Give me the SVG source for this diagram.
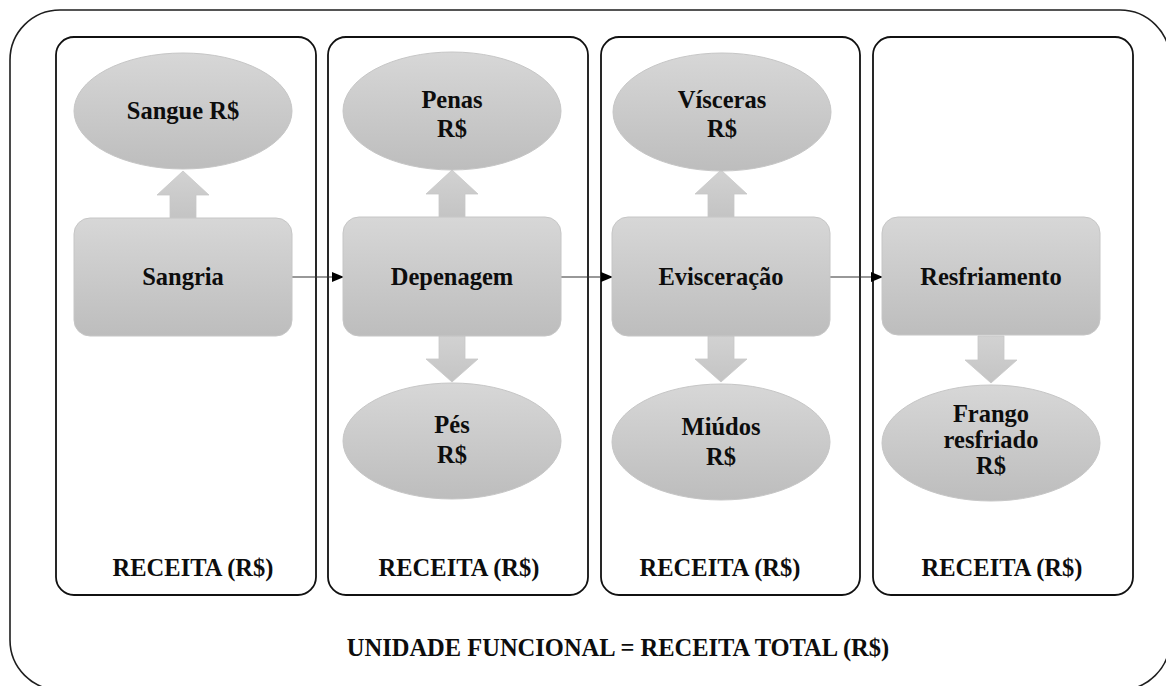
<svg xmlns="http://www.w3.org/2000/svg" width="1166" height="686" viewBox="0 0 1166 686">
  <defs>
    <linearGradient id="gShape" x1="0" y1="0" x2="0" y2="1">
      <stop offset="0" stop-color="#d7d7d7"/>
      <stop offset="1" stop-color="#bdbdbd"/>
    </linearGradient>
    <linearGradient id="gArrow" x1="0" y1="0" x2="0" y2="1">
      <stop offset="0" stop-color="#d2d2d2"/>
      <stop offset="1" stop-color="#c4c4c4"/>
    </linearGradient>
    <marker id="head" markerWidth="12" markerHeight="10" refX="11" refY="5" orient="auto" markerUnits="userSpaceOnUse">
      <path d="M0,0 L12,5 L0,10 Z" fill="#000"/>
    </marker>
  </defs>
  <style>
    .frame { fill: #fff; stroke: #1e1e1e; stroke-width: 1.6; }
    .panel { fill: none; stroke: #111; stroke-width: 1.8; }
    .box { fill: url(#gShape); stroke: #c6c6c6; stroke-width: 1; }
    .blk { fill: url(#gArrow); stroke: #c8c8c8; stroke-width: 0.8; }
    .link { fill: none; stroke: #333; stroke-width: 1.2; marker-end: url(#head); }
    .node { font-size: 24.5px; }
    .rev { font-size: 24.5px; }
    .total { font-size: 24.5px; }
  </style>

  <!-- outer frame -->
  <rect class="frame" x="10" y="10" width="1160" height="680" rx="50" ry="50"/>

  <g font-family="'Liberation Serif', 'DejaVu Serif', serif" font-weight="bold" fill="#0d0d0d" text-anchor="middle">
    <!-- stage panels -->
    <g id="panel-1">
      <rect class="panel" x="56" y="37" width="260" height="558" rx="18"/>
      <text class="rev" x="193" y="576">RECEITA (R$)</text>
    </g>
    <g id="panel-2">
      <rect class="panel" x="328" y="37" width="260" height="558" rx="18"/>
      <text class="rev" x="459" y="576">RECEITA (R$)</text>
    </g>
    <g id="panel-3">
      <rect class="panel" x="601" y="37" width="259" height="558" rx="18"/>
      <text class="rev" x="720" y="576">RECEITA (R$)</text>
    </g>
    <g id="panel-4">
      <rect class="panel" x="873" y="37" width="260" height="558" rx="18"/>
      <text class="rev" x="1002" y="576">RECEITA (R$)</text>
    </g>

    <!-- block arrows from processes to products -->
    <g id="product-arrows">
      <path class="blk" d="M170,218 V195 H157 L183,171 L209,195 H196 V218 Z"/>
      <path class="blk" d="M439,217 V194 H426 L452,170 L478,194 H465 V217 Z"/>
      <path class="blk" d="M439,336 V359 H426 L452,382 L478,359 H465 V336 Z"/>
      <path class="blk" d="M708,217 V194 H695 L721,170 L747,194 H734 V217 Z"/>
      <path class="blk" d="M708,336 V359 H695 L721,382 L747,359 H734 V336 Z"/>
      <path class="blk" d="M978,336 V360 H965 L991,383 L1017,360 H1004 V336 Z"/>
    </g>

    <!-- process flow -->
    <g id="connectors">
      <line class="link" x1="292" y1="277" x2="343" y2="277"/>
      <line class="link" x1="561" y1="277" x2="612" y2="277"/>
      <line class="link" x1="830" y1="277" x2="882" y2="277"/>
    </g>

    <!-- processes -->
    <g id="sangria">
      <rect class="box" x="74" y="218" width="218" height="118" rx="16"/>
      <text class="node" x="183" y="285">Sangria</text>
    </g>
    <g id="depenagem">
      <rect class="box" x="343" y="217" width="218" height="119" rx="16"/>
      <text class="node" x="452" y="285">Depenagem</text>
    </g>
    <g id="evisceracao">
      <rect class="box" x="612" y="217" width="218" height="119" rx="16"/>
      <text class="node" x="721" y="285">Evisceração</text>
    </g>
    <g id="resfriamento">
      <rect class="box" x="882" y="217" width="218" height="118" rx="16"/>
      <text class="node" x="991" y="285">Resfriamento</text>
    </g>

    <!-- products -->
    <g id="sangue">
      <ellipse class="box" cx="183" cy="111" rx="109" ry="58"/>
      <text class="node" x="183" y="119">Sangue R$</text>
    </g>
    <g id="penas">
      <ellipse class="box" cx="452" cy="111" rx="109" ry="59"/>
      <text class="node" x="452" y="108">Penas</text>
      <text class="node" x="452" y="137">R$</text>
    </g>
    <g id="pes">
      <ellipse class="box" cx="452" cy="441" rx="109" ry="58"/>
      <text class="node" x="452" y="433">Pés</text>
      <text class="node" x="452" y="463">R$</text>
    </g>
    <g id="visceras">
      <ellipse class="box" cx="722" cy="112" rx="109" ry="59"/>
      <text class="node" x="722" y="108">Vísceras</text>
      <text class="node" x="722" y="137">R$</text>
    </g>
    <g id="miudos">
      <ellipse class="box" cx="721" cy="442" rx="109" ry="58"/>
      <text class="node" x="721" y="435">Miúdos</text>
      <text class="node" x="721" y="465">R$</text>
    </g>
    <g id="frango">
      <ellipse class="box" cx="991" cy="443" rx="109" ry="58"/>
      <text class="node" x="991" y="422">Frango</text>
      <text class="node" x="991" y="448">resfriado</text>
      <text class="node" x="991" y="474">R$</text>
    </g>

    <text class="total" x="618" y="656">UNIDADE FUNCIONAL = RECEITA TOTAL (R$)</text>
  </g>
</svg>
